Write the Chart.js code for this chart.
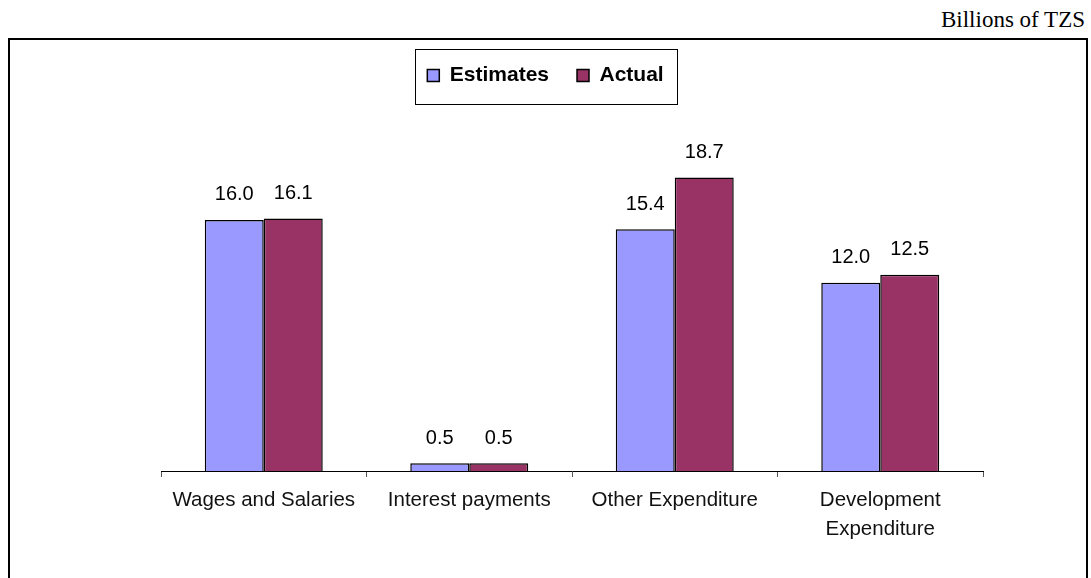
<!DOCTYPE html>
<html>
<head>
<meta charset="utf-8">
<script src="https://cdn.jsdelivr.net/npm/chart.js@4/dist/chart.umd.min.js"></script>
<style>
  html, body { margin: 0; padding: 0; background: #fff; overflow: hidden; }
  #frame {
    position: absolute; left: 8px; top: 38px;
    width: 1080px; height: 600px;
    box-sizing: border-box; border: 2px solid #000;
  }
  #unit {
    position: absolute; right: 6px; top: 7px;
    font-family: "Liberation Serif", "Times New Roman", serif;
    font-size: 23px; color: #000; white-space: nowrap;
  }
  #chart { position: absolute; left: 0; top: 0; }
</style>
</head>
<body>
<div id="unit">Billions of TZS</div>
<div id="frame"></div>
<canvas id="chart" width="1091" height="578"></canvas>
<script>
// expenditure, estimates against actual outturn
var categories = ['Wages and Salaries', 'Interest payments', 'Other Expenditure', ['Development', 'Expenditure']];
var estimates = [16.0, 0.5, 15.4, 12.0];
var actual = [16.1, 0.5, 18.7, 12.5];

Chart.defaults.font.family = '"Liberation Sans", Arial, sans-serif';
Chart.defaults.color = '#000';

// value above every bar
var barValues = {
    id: 'barValues',
    afterDatasetsDraw: function(chart) {
        var ctx = chart.ctx;
        ctx.save();
        ctx.font = '20px "Liberation Sans", Arial, sans-serif';
        ctx.fillStyle = '#000';
        ctx.textAlign = 'center';
        ctx.textBaseline = 'middle';
        chart.data.datasets.forEach(function(ds, i) {
            chart.getDatasetMeta(i).data.forEach(function(bar, j) {
                ctx.fillText(ds.data[j].toFixed(1), bar.x, bar.y - 25);
            });
        });
        ctx.restore();
    }
};

// thin box round the legend
var legendBox = {
    id: 'legendBox',
    afterDraw: function(chart) {
        var boxes = chart.legend.legendHitBoxes;
        if (!boxes || !boxes.length) return;
        var first = boxes[0], last = boxes[boxes.length - 1];
        var cy = first.top + first.height / 2;
        var x1 = Math.round(first.left - 12) + 0.5;
        var x2 = Math.round(last.left + last.width + 13) + 0.5;
        var ctx = chart.ctx;
        ctx.save();
        ctx.strokeStyle = '#000';
        ctx.lineWidth = 1;
        ctx.strokeRect(x1, Math.round(cy - 27) + 0.5, x2 - x1, 55);
        ctx.restore();
    }
};

new Chart(document.getElementById('chart'), {
    type: 'bar',
    data: {
        labels: categories,
        datasets: [
            {
                label: 'Estimates',
                data: estimates,
                backgroundColor: '#9999FF',
                borderColor: '#000',
                borderWidth: 1.5
            },
            {
                label: 'Actual',
                data: actual,
                backgroundColor: '#993366',
                borderColor: '#000',
                borderWidth: 1.5
            }
        ]
    },
    options: {
        responsive: false,
        animation: false,
        layout: { padding: { top: 37, bottom: 27, left: 0, right: 0 } },
        categoryPercentage: 0.574,
        barPercentage: 1,
        plugins: {
            legend: {
                position: 'top',
                labels: {
                    boxWidth: 12,
                    boxHeight: 12,
                    padding: 28,
                    color: '#000',
                    font: { size: 21, weight: 'bold' }
                }
            },
            tooltip: { enabled: false }
        },
        scales: {
            x: {
                grid: {
                    display: true,
                    drawOnChartArea: false,
                    drawTicks: true,
                    tickLength: 6,
                    color: '#555'
                },
                border: { display: true, color: '#000', width: 1 },
                ticks: {
                    color: '#111',
                    padding: 9,
                    maxRotation: 0,
                    autoSkip: false,
                    font: { size: 20.5, lineHeight: 1.4 }
                },
                afterFit: function(s) { s.height = 80; }
            },
            y: {
                min: 0,
                max: 23.9,
                display: true,
                grid: { display: false },
                border: { display: false },
                ticks: { display: false },
                afterFit: function(s) { s.width = 161; }
            },
            yRight: {
                type: 'linear',
                position: 'right',
                display: true,
                grid: { display: false },
                border: { display: false },
                ticks: { display: false },
                afterFit: function(s) { s.width = 108; }
            }
        }
    },
    plugins: [barValues, legendBox]
});
</script>
</body>
</html>
